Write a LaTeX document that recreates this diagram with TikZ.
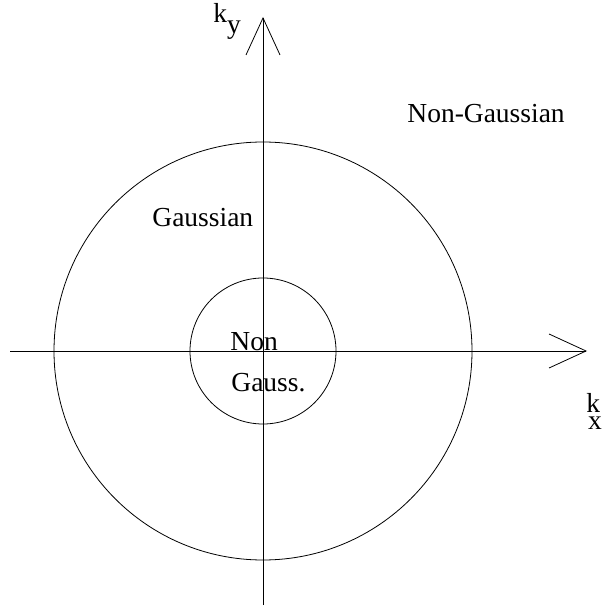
\documentclass[tikz,border=0pt]{standalone}
\usepackage{fontspec}
\setmainfont{Liberation Serif}
\usetikzlibrary{arrows.meta}

\begin{document}
\begin{tikzpicture}[x=1pt, y=1pt, line width=0.8pt,
    every node/.style={font=\fontsize{27.5}{30}\selectfont, inner sep=0pt, anchor=base west},
    axis/.style={-{Straight Barb[length=37pt, width=34pt]}}]
  \useasboundingbox (0,0) rectangle (612,605);
  % axes
  \coordinate (o) at (263,254);
  \coordinate (xl) at (10,254);
  \coordinate (xr) at (587,254);
  \coordinate (yb) at (263,0);
  \coordinate (yt) at (263,588);
  \draw[axis] (xl) -- (xr);
  \draw[axis] (yb) -- (yt);
  % regions
  \draw (o) circle (209);
  \draw (o) circle (73);
  \node (ky) at (213,582) {k\raisebox{-11pt}{y}};
  \node (kx) at (586,193) {k\kern-12pt\raisebox{-17pt}{x}};
  \node (nongauss) at (407,482) {Non-Gaussian};
  \node (gauss) at (152,378) {Gaussian};
  \node (non) at (230,254) {Non};
  \node (gaussdot) at (231,214) {Gauss.};
\end{tikzpicture}
\end{document}
